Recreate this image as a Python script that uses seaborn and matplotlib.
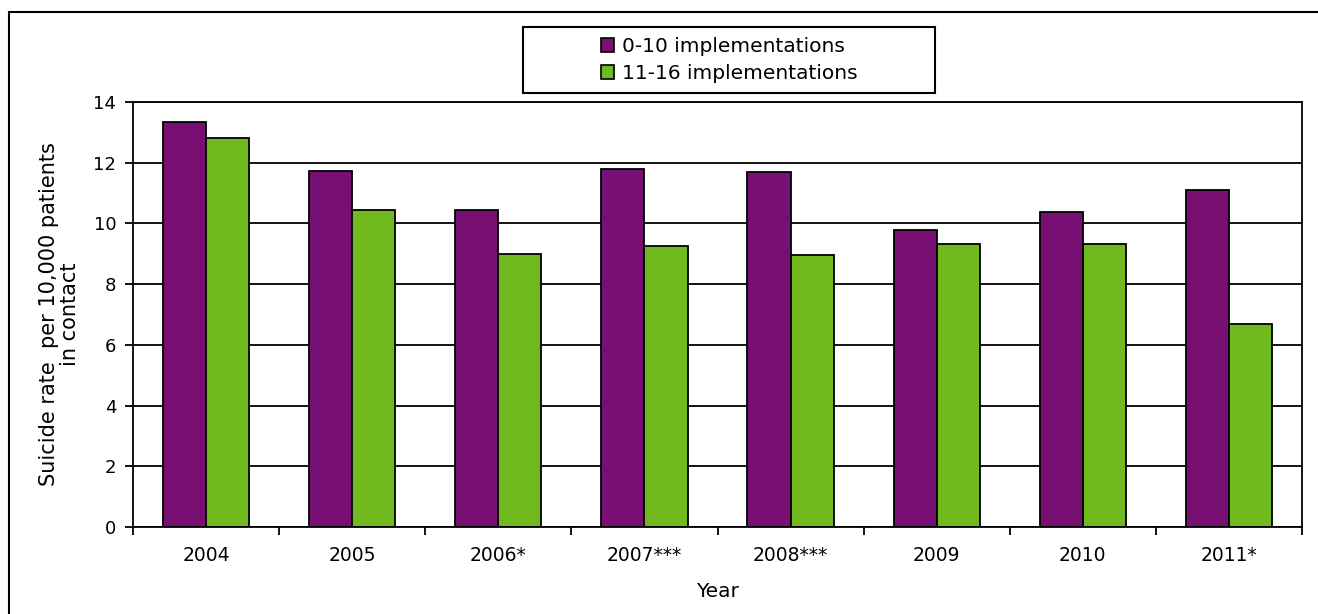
import matplotlib
matplotlib.use("Agg")
import matplotlib.pyplot as plt
import seaborn as sns
import pandas as pd
import numpy as np
from matplotlib.patches import Rectangle
from matplotlib.ticker import FixedLocator

years = ["2004", "2005", "2006*", "2007***", "2008***", "2009", "2010", "2011*"]
group_a = "0-10 implementations"
group_b = "11-16 implementations"
values_a = [13.35, 11.72, 10.44, 11.78, 11.71, 9.79, 10.38, 11.09]
values_b = [12.82, 10.44, 9.00, 9.26, 8.95, 9.33, 9.33, 6.70]
yticks = [0, 2, 4, 6, 8, 10, 12, 14]

df = pd.DataFrame({
    "Year": years * 2,
    "Group": [group_a] * len(years) + [group_b] * len(years),
    "Rate": values_a + values_b,
})

sns.set_style("white")
plt.rcParams["font.family"] = ["DejaVu Sans"]
plt.rcParams["text.color"] = "black"
plt.rcParams["axes.labelcolor"] = "black"
plt.rcParams["xtick.color"] = "black"
plt.rcParams["ytick.color"] = "black"

fig = plt.figure(figsize=(13.18, 6.14), dpi=100)
ax = fig.add_axes([133 / 1318, 1 - 527 / 614, (1302 - 133) / 1318, (527 - 102) / 614])

palette = {group_a: "#780f72", group_b: "#70ba1f"}
sns.barplot(data=df, x="Year", y="Rate", hue="Group", order=years,
            hue_order=[group_a, group_b], palette=palette, width=0.59,
            edgecolor="black", linewidth=1.3, saturation=1, ax=ax, legend=False)

ax.set_ylim(0, 14)
ax.set_xlim(-0.5, len(years) - 0.5)
ax.set_yticks(yticks)
ax.set_yticklabels([str(t) for t in yticks], fontsize=13)
ax.yaxis.grid(True, color="black", linewidth=1.3)
ax.xaxis.grid(False)
ax.set_axisbelow(True)
ax.tick_params(axis="y", which="major", left=True, direction="out", length=6,
               width=1.3, color="black", pad=6, labelcolor="black")
ax.tick_params(axis="x", which="major", bottom=True, length=0, labelsize=13.5,
               pad=14, labelcolor="black")
ax.xaxis.set_minor_locator(FixedLocator(np.arange(-0.5, len(years), 1.0)))
ax.tick_params(axis="x", which="minor", bottom=True, direction="out", length=6,
               width=1.3, color="black")
for s in ax.spines.values():
    s.set_visible(True)
    s.set_color("black")
    s.set_linewidth(1.3)

ax.set_xlabel("Year", fontsize=14.5, labelpad=12, color="black")
ax.set_ylabel("Suicide rate  per 10,000 patients\nin contact", fontsize=15,
              labelpad=10, color="black", linespacing=1.05)

# legend box
fig.patches.append(Rectangle((523 / 1318, 1 - 93 / 614), (935 - 523) / 1318, 66 / 614,
                             transform=fig.transFigure, fill=True, facecolor="white",
                             edgecolor="black", linewidth=1.5, zorder=1))
handles = [Rectangle((0, 0), 1, 1, facecolor=palette[g], edgecolor="black", linewidth=1.2)
           for g in [group_a, group_b]]
leg = fig.legend(handles, [group_a, group_b], loc="center",
                 bbox_to_anchor=(729 / 1318, 1 - 60 / 614), fontsize=14.5,
                 frameon=False, handlelength=0.65, handleheight=0.65, handletextpad=0.4,
                 labelspacing=0.4, borderpad=0, borderaxespad=0)
leg.set_zorder(2)

# outer chart frame (left and top edges visible)
fig.patches.append(Rectangle((9 / 1318, -0.05), 1.2, 1 - 12 / 614 + 0.05,
                             transform=fig.transFigure, fill=False,
                             edgecolor="black", linewidth=1.5, zorder=0))

fig.savefig("out.png", dpi=100)
